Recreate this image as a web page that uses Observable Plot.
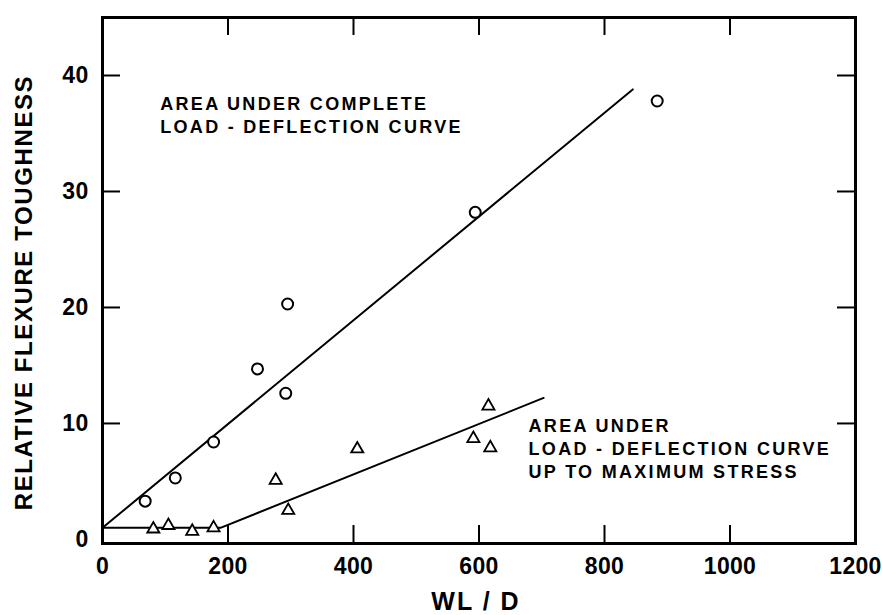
<!DOCTYPE html>
<html>
<head>
<meta charset="utf-8">
<script src="https://cdn.jsdelivr.net/npm/d3@7"></script>
<script src="https://cdn.jsdelivr.net/npm/@observablehq/plot@0.6"></script>
<style>
  body { margin: 0; background: #fff; }
  g[aria-description="annot"] text { letter-spacing: 2.3px; }
  g[aria-description="ylabel"] text { letter-spacing: 1.6px; }
  g[aria-description="xlabel"] text { letter-spacing: 2px; }
  g[aria-label="x-axis tick label"] text, g[aria-label="y-axis tick label"] text { letter-spacing: 0.3px; }
</style>
</head>
<body>
<div id="chart"></div>
<script>
// Circles: area under complete load-deflection curve
const completeX = [68, 116, 177, 247, 292, 295, 594, 884];
const completeY = [3.3, 5.3, 8.4, 14.7, 12.6, 20.3, 28.2, 37.8];
// Triangles: area up to maximum stress
const maxX = [81, 105, 143, 177, 276, 296, 406, 591, 618, 615];
const maxY = [0.9, 1.2, 0.7, 1.0, 5.1, 2.5, 7.8, 8.7, 7.9, 11.5];
// Fitted lines
const completeLineX = [0, 845];
const completeLineY = [1, 38.8];
const maxLineX = [0, 188, 703];
const maxLineY = [1, 1, 12.2];
// Ticks
const xTicks = [0, 200, 400, 600, 800, 1000, 1200];
const yTicks = [0, 10, 20, 30, 40];
const xInnerTicks = [200, 400, 600, 800, 1000];
const yInnerTicks = [10, 20, 30, 40];
// Texts
const xLabel = "WL / D";
const yLabel = "RELATIVE FLEXURE TOUGHNESS";
const annotComplete = {x: 92, y: 36.7, text: "AREA UNDER COMPLETE\nLOAD - DEFLECTION CURVE"};
const annotMax = {x: 679, y: 7.9, text: "AREA UNDER\nLOAD - DEFLECTION CURVE\nUP TO MAXIMUM STRESS"};

const complete = completeX.map((x, i) => ({x, y: completeY[i]}));
const maxPts = maxX.map((x, i) => ({x, y: maxY[i]}));
const completeLine = completeLineX.map((x, i) => ({x, y: completeLineY[i]}));
const maxLine = maxLineX.map((x, i) => ({x, y: maxLineY[i]}));

const W = 882, H = 615, mL = 102, mR = 27, mT = 17, mB = 72;
const innerW = W - mL - mR, innerH = H - mT - mB, tick = 18;

const chart = Plot.plot({
  width: W, height: H,
  marginLeft: mL, marginRight: mR, marginTop: mT, marginBottom: mB,
  style: {fontFamily: "'Liberation Sans', Arial, sans-serif", background: "#fff", color: "#000"},
  x: {domain: [0, 1200], axis: null},
  y: {domain: [-0.35, 45], axis: null},
  marks: [
    // inward ticks on all four sides
    Plot.tickX(xInnerTicks, {x: d => d, insetTop: innerH - tick, stroke: "#000", strokeWidth: 2}),
    Plot.tickX(xInnerTicks, {x: d => d, insetBottom: innerH - tick, stroke: "#000", strokeWidth: 2}),
    Plot.tickY(yInnerTicks, {y: d => d, insetRight: innerW - tick, stroke: "#000", strokeWidth: 2}),
    Plot.tickY(yInnerTicks, {y: d => d, insetLeft: innerW - tick, stroke: "#000", strokeWidth: 2}),
    Plot.frame({stroke: "#000", strokeWidth: 3}),
    Plot.axisX(xTicks, {anchor: "bottom", tickSize: 0, tickPadding: 14, tickFormat: d => String(d),
      fontSize: 23, fontWeight: "bold", label: null}),
    Plot.axisY(yTicks, {anchor: "left", tickSize: 0, tickPadding: 14, tickFormat: d => String(d),
      fontSize: 23, fontWeight: "bold", label: null}),
    Plot.text([yLabel], {text: d => d, frameAnchor: "left", textAnchor: "middle", lineAnchor: "middle",
      rotate: -90, dx: -78, dy: 12, fontSize: 24, fontWeight: "bold", fill: "#000", ariaDescription: "ylabel"}),
    Plot.text([xLabel], {text: d => d, frameAnchor: "bottom", textAnchor: "middle", lineAnchor: "middle",
      dx: -3, dy: 58, fontSize: 25, fontWeight: "bold", fill: "#000", ariaDescription: "xlabel"}),
    Plot.line(completeLine, {x: "x", y: "y", stroke: "#000", strokeWidth: 2}),
    Plot.line(maxLine, {x: "x", y: "y", stroke: "#000", strokeWidth: 2}),
    Plot.dot(complete, {x: "x", y: "y", r: 5.5, symbol: "circle", stroke: "#000", strokeWidth: 2, fill: "#fff"}),
    Plot.dot(maxPts, {x: "x", y: "y", r: 4.5, symbol: "triangle", stroke: "#000", strokeWidth: 1.8, fill: "#fff"}),
    Plot.text([annotComplete, annotMax], {x: "x", y: "y", text: "text", textAnchor: "start",
      lineAnchor: "middle", lineHeight: 1.29, fontSize: 18, fontWeight: "bold", fill: "#000",
      ariaDescription: "annot"})
  ]
});
document.getElementById("chart").appendChild(chart);
</script>
</body>
</html>
